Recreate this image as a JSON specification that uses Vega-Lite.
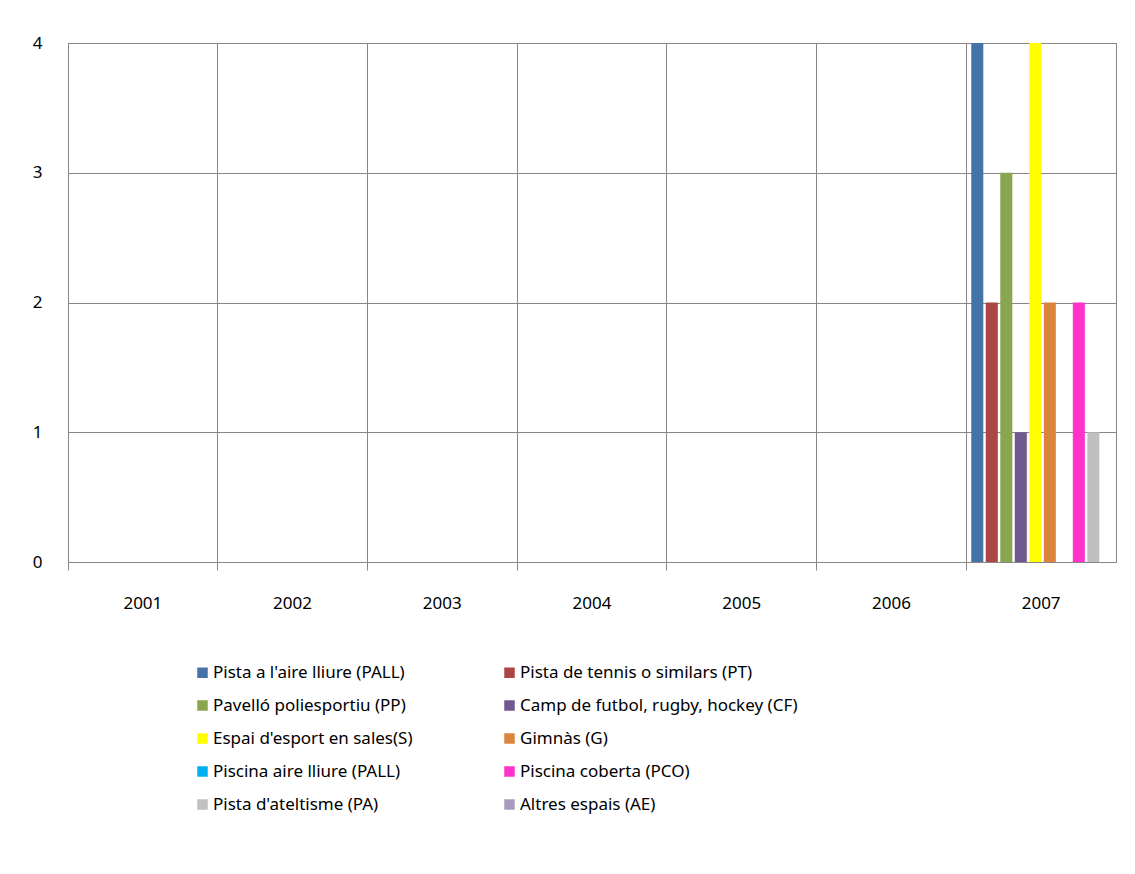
{
  "$schema": "https://vega.github.io/schema/vega-lite/v6.json",
  "width": 1048,
  "height": 519,
  "padding": {"left": 68, "top": 43, "right": 19, "bottom": 312},
  "autosize": "none",
  "background": "white",
  "config": {
    "view": {"stroke": "#868686", "strokeWidth": 1},
    "font": "Noto Sans",
    "axis": {"labelFont": "Noto Sans", "labelFontSize": 17, "labelColor": "#000000", "domainColor": "#868686", "gridColor": "#868686", "tickColor": "#868686", "gridOpacity": 1}
  },
  "data": {
    "values": [
      {"year": "2007", "tipus": "Pista a l'aire lliure (PALL)", "n": 4},
      {"year": "2007", "tipus": "Pista de tennis o similars (PT)", "n": 2},
      {"year": "2007", "tipus": "Pavelló poliesportiu (PP)", "n": 3},
      {"year": "2007", "tipus": "Camp de futbol, rugby, hockey (CF)", "n": 1},
      {"year": "2007", "tipus": "Espai d'esport en sales(S)", "n": 4},
      {"year": "2007", "tipus": "Gimnàs (G)", "n": 2},
      {"year": "2007", "tipus": "Piscina aire lliure (PALL)", "n": 0},
      {"year": "2007", "tipus": "Piscina coberta (PCO)", "n": 2},
      {"year": "2007", "tipus": "Pista d'ateltisme (PA)", "n": 1},
      {"year": "2007", "tipus": "Altres espais (AE)", "n": 0}
    ]
  },
  "mark": {"type": "bar"},
  "encoding": {
    "x": {
      "field": "year", "type": "nominal",
      "scale": {"domain": ["2001", "2002", "2003", "2004", "2005", "2006", "2007"], "paddingInner": 0, "paddingOuter": 0},
      "axis": {"title": null, "labelAngle": 0, "grid": true, "bandPosition": 0, "labelOffset": 0, "tickSize": 8, "labelPadding": 25, "domainColor": "#868686"}
    },
    "xOffset": {
      "field": "tipus", "type": "nominal",
      "scale": {"domain": ["Pista a l'aire lliure (PALL)", "Pista de tennis o similars (PT)", "Pavelló poliesportiu (PP)", "Camp de futbol, rugby, hockey (CF)", "Espai d'esport en sales(S)", "Gimnàs (G)", "Piscina aire lliure (PALL)", "Piscina coberta (PCO)", "Pista d'ateltisme (PA)", "Altres espais (AE)"], "paddingInner": 0.17, "paddingOuter": 0.245, "align": 0.7}
    },
    "y": {
      "field": "n", "type": "quantitative",
      "scale": {"domain": [0, 4], "nice": false},
      "axis": {"title": null, "values": [0, 1, 2, 3, 4], "ticks": false, "labelPadding": 26, "grid": true, "domain": true}
    },
    "color": {
      "field": "tipus", "type": "nominal",
      "scale": {
        "domain": ["Pista a l'aire lliure (PALL)", "Pista de tennis o similars (PT)", "Pavelló poliesportiu (PP)", "Camp de futbol, rugby, hockey (CF)", "Espai d'esport en sales(S)", "Gimnàs (G)", "Piscina aire lliure (PALL)", "Piscina coberta (PCO)", "Pista d'ateltisme (PA)", "Altres espais (AE)"],
        "range": ["#4572A7", "#AA4643", "#89A54E", "#71588F", "#FFFF00", "#DB843D", "#00B0F0", "#FF33CC", "#C0C0C0", "#A99BBD"]
      },
      "legend": {
        "title": null, "orient": "none", "legendX": 126, "legendY": 621, "direction": "horizontal",
        "columns": 2, "columnPadding": 88, "rowPadding": 15,
        "symbolType": "square", "symbolSize": 110, "symbolStrokeWidth": 0, "symbolOpacity": 1,
        "labelFont": "Noto Sans", "labelFontSize": 17, "labelColor": "#000000", "labelOffset": 2, "labelLimit": 400
      }
    }
  }
}
